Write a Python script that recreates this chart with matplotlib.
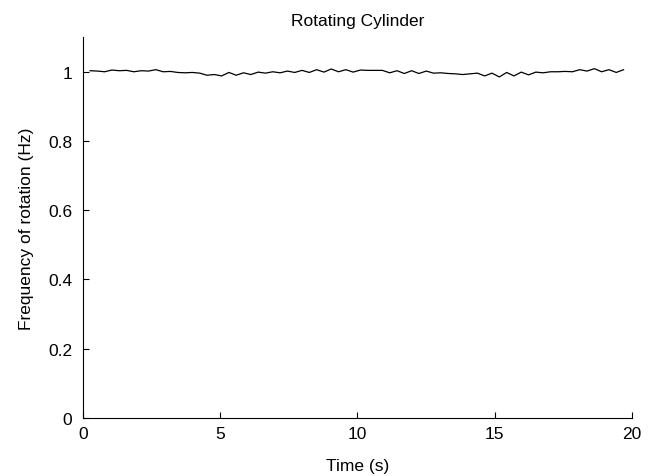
import numpy as np
import matplotlib.pyplot as plt

plt.rcParams['font.family'] = ['Liberation Sans', 'DejaVu Sans']
plt.rcParams['font.size'] = 12.5

# frequency of rotation (Hz)
freq = [1.003, 1.002, 1.000, 1.005, 1.003, 1.004, 1.000, 1.003, 1.002, 1.006,
        1.000, 1.001, 0.998, 0.997, 0.998, 0.996, 0.990, 0.992, 0.988, 0.998,
        0.990, 0.997, 0.992, 0.999, 0.996, 1.000, 0.997, 1.002, 0.998, 1.004,
        0.998, 1.006, 0.999, 1.008, 1.000, 1.006, 0.999, 1.005, 1.004, 1.004,
        1.004, 0.997, 1.003, 0.995, 1.003, 0.995, 1.002, 0.996, 0.997, 0.995,
        0.994, 0.992, 0.994, 0.996, 0.988, 0.996, 0.985, 0.998, 0.988, 0.999,
        0.991, 0.999, 0.997, 1.000, 1.000, 1.001, 1.000, 1.006, 1.002, 1.009,
        1.000, 1.006, 0.998, 1.006]
t = np.linspace(0.25, 19.7, len(freq))

fig = plt.figure(figsize=(6.5, 4.77), dpi=100)
ax = fig.add_axes([0.128, 0.122, 0.844, 0.798])
ax.plot(t, freq, color='black', linewidth=0.9)

ax.set_xlim(0, 20)
ax.set_ylim(0, 1.1)
ax.set_xticks([0, 5, 10, 15, 20])
ax.set_yticks([0, 0.2, 0.4, 0.6, 0.8, 1])
ax.set_yticklabels(['0', '0.2', '0.4', '0.6', '0.8', '1'])
ax.tick_params(direction='in', length=4, width=0.8, labelsize=12.5)
ax.tick_params(axis='x', pad=6)
ax.tick_params(axis='y', pad=8)
ax.spines['top'].set_visible(False)
ax.spines['right'].set_visible(False)

ax.set_xlabel('Time (s)', fontsize=12.5, labelpad=12)
ax.set_ylabel('Frequency of rotation (Hz)', fontsize=12.5, labelpad=10)
ax.set_title('Rotating Cylinder', fontsize=12.5, pad=9)

plt.savefig('out.png')
plt.close()
